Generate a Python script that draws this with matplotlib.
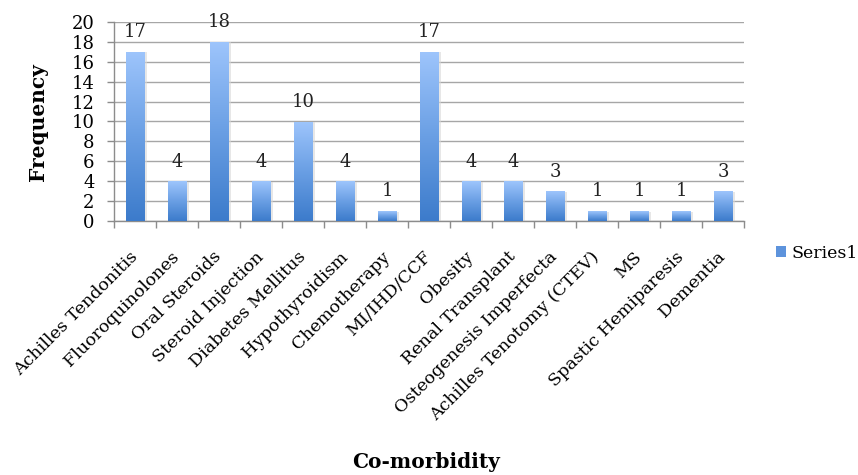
import numpy as np
import matplotlib
matplotlib.use("Agg")
import matplotlib.pyplot as plt
from matplotlib.colors import LinearSegmentedColormap
from matplotlib.patches import Patch

categories = ["Achilles Tendonitis", "Fluoroquinolones", "Oral Steroids",
              "Steroid Injection", "Diabetes Mellitus", "Hypothyroidism",
              "Chemotherapy", "MI/IHD/CCF", "Obesity", "Renal Transplant",
              "Osteogenesis Imperfecta", "Achilles Tenotomy (CTEV)", "MS",
              "Spastic Hemiparesis", "Dementia"]
values = [17, 4, 18, 4, 10, 4, 1, 17, 4, 4, 3, 1, 1, 1, 3]
y_ticks = list(range(0, 21, 2))

plt.rcParams['font.family'] = ['DejaVu Serif']

fig = plt.figure(figsize=(8.58, 4.75), dpi=100)
ax = fig.add_axes([114 / 858, 1 - 221 / 475, 630 / 858, 199 / 475])

x = np.arange(len(categories))
width = 0.43
bars = ax.bar(x, values, width=width, color="none", edgecolor="none", zorder=3)

grad = LinearSegmentedColormap.from_list("bar", ["#3c7bcb", "#6a9fe4", "#9ec5fc"])
g = np.linspace(0, 1, 256).reshape(-1, 1)
for b in bars:
    x0, y0 = b.get_x(), b.get_y()
    w, h = b.get_width(), b.get_height()
    # soft shadow to the right of each bar
    ax.add_patch(plt.Rectangle((x0 + 0.03, y0), w + 0.04, h - 0.05,
                               color="#d8d8d8", alpha=0.6, zorder=2, lw=0))
    im = ax.imshow(g, cmap=grad, origin="lower", aspect="auto",
                   extent=(x0, x0 + w, y0, y0 + h), zorder=3,
                   interpolation="bilinear")
    im.set_clip_path(b)

for xi, v in zip(x, values):
    ax.annotate(str(v), (xi, v), xytext=(0, 10.5), textcoords="offset points",
                ha="center", va="baseline", fontsize=13, color="#222222",
                zorder=4)

ax.set_xlim(-0.5, len(categories) - 0.5)
ax.set_ylim(0, 20)
ax.set_yticks(y_ticks)
ax.set_yticklabels([str(t) for t in y_ticks], fontsize=13)
ax.yaxis.grid(True, color="#a6a6a6", lw=1.0, zorder=0)
ax.set_axisbelow(True)

ax.set_xticks(np.arange(-0.5, len(categories), 1.0))
ax.set_xticklabels([])
ax.set_xticks(x, minor=True)
ax.set_xticklabels(categories, minor=True, rotation=45, ha="right",
                   va="center", rotation_mode="anchor", fontsize=12.6)
ax.tick_params(axis="x", which="minor", length=0, pad=24)
ax.tick_params(axis="x", which="major", length=5, color="#8c8c8c", width=1)
ax.tick_params(axis="y", length=5, color="#8c8c8c", width=1, pad=9)

for s in ["top", "right"]:
    ax.spines[s].set_visible(False)
for s in ["left", "bottom"]:
    ax.spines[s].set_color("#8c8c8c")
    ax.spines[s].set_linewidth(1)

fig.text(38 / 858, 1 - 122 / 475, "Frequency", rotation=90, ha="center",
         va="center", fontsize=14.5, fontweight="bold")
fig.text(426 / 858, 1 - 462 / 475, "Co-morbidity", ha="center",
         va="center", fontsize=14.5, fontweight="bold")

handle = Patch(facecolor="#5d93dc", edgecolor="none")
fig.legend([handle], ["Series1"], loc="center left",
           bbox_to_anchor=(776 / 858, 1 - 253 / 475), frameon=False,
           fontsize=12.5, handlelength=0.6, handleheight=0.6, handletextpad=0.3,
           borderaxespad=0, borderpad=0)

fig.savefig("out.png", dpi=100)
